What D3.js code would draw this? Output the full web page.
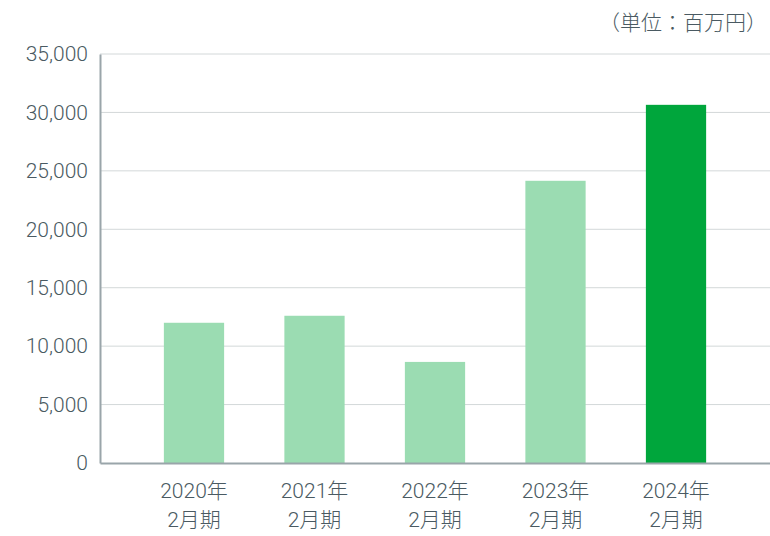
<!DOCTYPE html>
<html lang="ja">
<head>
<meta charset="UTF-8">
<title>売上高</title>
<script src="https://d3js.org/d3.v7.min.js"></script>
<style>
    body { margin: 0; padding: 0; background: #fff; overflow: hidden; }
    svg { display: block; }
    text { font-family: Roboto, "Noto Sans CJK JP", sans-serif; font-weight: 300; fill: #4a5a62; }
</style>
</head>
<body>
<svg id="chart" width="770" height="536"></svg>
<script>
    // data
    var years = ["2020年", "2021年", "2022年", "2023年", "2024年"];
    var periods = ["2月期", "2月期", "2月期", "2月期", "2月期"];
    var values = [12000, 12600, 8650, 24150, 30650];
    var yTicks = [0, 5000, 10000, 15000, 20000, 25000, 30000, 35000];

    var svg = d3.select("#chart");
    var plotLeft = 100, plotRight = 770, plotTop = 54, plotBottom = 463;

    var x = d3.scaleBand()
        .domain(years)
        .range([plotLeft, plotRight])
        .paddingInner(0.5)
        .paddingOuter(0.53);

    var y = d3.scaleLinear()
        .domain([0, 35000])
        .range([plotBottom, plotTop]);

    // gridlines
    svg.append("g")
        .selectAll("line")
        .data(yTicks.slice(1))
        .enter().append("line")
        .attr("x1", plotLeft).attr("x2", plotRight)
        .attr("y1", function(d) { return y(d); })
        .attr("y2", function(d) { return y(d); })
        .attr("stroke", "#d3d8d9")
        .attr("stroke-width", 1);

    // bars
    svg.append("g")
        .selectAll("rect")
        .data(values)
        .enter().append("rect")
        .attr("x", function(d, i) { return x(years[i]); })
        .attr("width", x.bandwidth())
        .attr("y", function(d) { return y(d); })
        .attr("height", function(d) { return plotBottom - y(d); })
        .attr("fill", function(d, i) { return i === values.length - 1 ? "#00a63c" : "#9bdcb2"; });

    // y axis
    var yAxis = svg.append("g")
        .attr("transform", "translate(" + plotLeft + ",0)")
        .call(d3.axisLeft(y).tickValues(yTicks).tickSize(0).tickPadding(12)
            .tickFormat(d3.format(",")));
    yAxis.attr("font-family", null).attr("font-size", null);
    yAxis.selectAll(".tick text").attr("fill", null).style("font-size", "21px");
    yAxis.select(".domain").attr("stroke", "#9aa5aa").attr("stroke-width", 2);

    // x axis
    var xAxis = svg.append("g")
        .attr("transform", "translate(0," + plotBottom + ")")
        .call(d3.axisBottom(x).tickSize(0).tickFormat(""));
    xAxis.attr("font-family", null).attr("font-size", null);
    xAxis.select(".domain").attr("stroke", "#9aa5aa").attr("stroke-width", 2);

    xAxis.selectAll(".tick").each(function(d, i) {
        var t = d3.select(this).append("text")
            .attr("text-anchor", "middle")
            .style("font-size", "21px");
        t.append("tspan").attr("x", 0).attr("y", 35).text(years[i]);
        t.append("tspan").attr("x", 0).attr("y", 64).text(periods[i]);
    });

    // unit label
    svg.append("text")
        .attr("x", 767).attr("y", 30)
        .attr("text-anchor", "end")
        .style("font-size", "21px")
        .text("（単位：百万円）");
</script>
</body>
</html>
